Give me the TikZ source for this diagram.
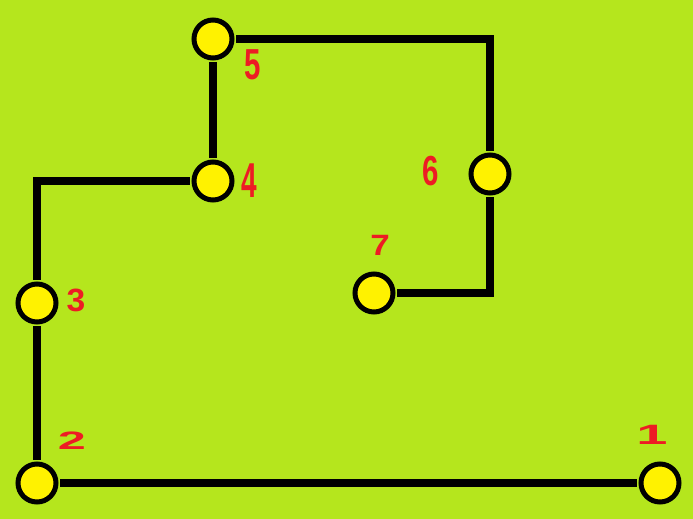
\documentclass[tikz,border=0pt]{standalone}
\usepackage{fontspec}
\setmainfont{Liberation Sans}
\definecolor{bglime}{HTML}{B5E61D}
\definecolor{dotyellow}{HTML}{FFF200}
\definecolor{labred}{HTML}{ED1C24}
\begin{document}
\begin{tikzpicture}[x=1pt,y=-1pt,
  dot/.style={circle,draw=black,fill=dotyellow,line width=5pt,minimum size=38pt,inner sep=0pt,outer sep=0pt},
  wire/.style={draw=black,line width=7.5pt,line cap=butt,shorten <=4pt,shorten >=4pt},
  lab/.style={text=labred,font=\bfseries\fontsize{28}{28}\selectfont,inner sep=0pt}]
\fill[bglime] (0,0) rectangle (693,519);
\useasboundingbox (0,0) rectangle (693,519);
\node[dot] (n1) at (660,483) {};
\node[dot] (n2) at (37,483) {};
\node[dot] (n3) at (37,303) {};
\node[dot] (n4) at (213,181) {};
\node[dot] (n5) at (213,39) {};
\node[dot] (n6) at (490,174) {};
\node[dot] (n7) at (374,293) {};
\draw[wire] (n2) -- (n1);
\draw[wire] (n2) -- (n3);
\draw[wire] (n3) |- (n4);
\draw[wire] (n4) -- (n5);
\draw[wire] (n5) -| (n6);
\draw[wire] (n6) |- (n7);
\node[lab,xscale=2.0,yscale=1.0] (l1) at (652,435) {1};
\node[lab,xscale=1.8,yscale=0.9] (l2) at (72,441) {2};
\node[lab,xscale=1.2,yscale=1.15] (l3) at (76,300) {3};
\node[lab,xscale=1.0,yscale=1.75] (l4) at (249,181) {4};
\node[lab,xscale=1.05,yscale=1.55] (l5) at (253,65) {5};
\node[lab,xscale=1.05,yscale=1.5] (l6) at (431,171) {6};
\node[lab,xscale=1.25,yscale=1.05] (l7) at (380,245) {7};
\end{tikzpicture}
\end{document}
